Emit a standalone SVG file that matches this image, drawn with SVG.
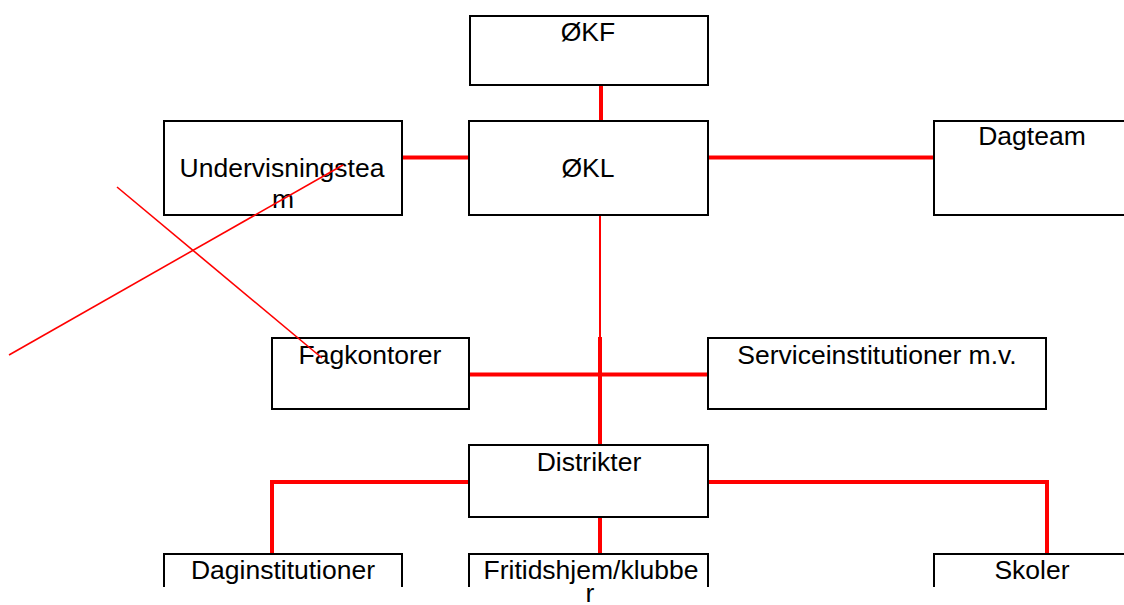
<svg xmlns="http://www.w3.org/2000/svg" width="1124" height="605" viewBox="0 0 1124 605">
<style>
.box{fill:#fff;stroke:#000;stroke-width:2}
.open{fill:none;stroke:#000;stroke-width:2}
.t{font-family:"Liberation Sans",Arial,sans-serif;font-size:26.5px;fill:#000;text-anchor:middle}
.thick{stroke:#ff0000;stroke-width:4;fill:none}
.thin{stroke:#ff0000;stroke-width:2;fill:none}
.diag{stroke:#ff0000;stroke-width:1.6;fill:none}
</style>
<rect width="1124" height="605" fill="#fff"/>
<g id="connectors">
<line class="thick" x1="601" y1="85" x2="601" y2="121"/>
<line class="thick" x1="402" y1="157.5" x2="469" y2="157.5"/>
<line class="thick" x1="708" y1="157.5" x2="934" y2="157.5"/>
<line class="thin" x1="600" y1="215" x2="600" y2="338"/>
<line class="thick" x1="600" y1="337" x2="600" y2="445"/>
<line class="thick" x1="469" y1="374.5" x2="708" y2="374.5"/>
<polyline class="thick" points="469,482 272,482 272,553"/>
<polyline class="thick" points="708,482 1047,482 1047,553"/>
<line class="thick" x1="600" y1="517" x2="600" y2="553"/>
</g>
<g id="okf"><rect class="box" x="470" y="16" width="238" height="69"/><text class="t" x="588" y="41">ØKF</text></g>
<g id="okl"><rect class="box" x="469" y="121" width="239" height="94"/><text class="t" x="588" y="177">ØKL</text></g>
<g id="undervisningsteam"><rect class="box" x="164" y="121" width="238" height="94"/><text class="t" x="282" y="177">Undervisningstea</text><text class="t" x="283" y="208">m</text></g>
<g id="dagteam"><rect class="box" x="934" y="121" width="200" height="94"/><text class="t" x="1032" y="145">Dagteam</text></g>
<g id="fagkontorer"><rect class="box" x="272" y="338" width="197" height="71"/><text class="t" x="370" y="364">Fagkontorer</text></g>
<g id="serviceinstitutioner"><rect class="box" x="708" y="338" width="338" height="71"/><text class="t" x="877" y="364">Serviceinstitutioner m.v.</text></g>
<g id="distrikter"><rect class="box" x="469" y="445" width="239" height="72"/><text class="t" x="589" y="471">Distrikter</text></g>
<g id="daginstitutioner"><path class="open" d="M164,587 V554 H402 V587"/><text class="t" x="283" y="579">Daginstitutioner</text></g>
<g id="fritidshjem"><path class="open" d="M469,587 V554 H708 V587"/><text class="t" x="591" y="579">Fritidshjem/klubbe</text><text class="t" x="590" y="602">r</text></g>
<g id="skoler"><path class="open" d="M934,587 V554 H1130"/><text class="t" x="1032" y="579">Skoler</text></g>
<g id="crossout">
<line class="diag" x1="117" y1="187" x2="322" y2="358"/>
<line class="diag" x1="9" y1="355" x2="343" y2="165"/>
</g>
</svg>
